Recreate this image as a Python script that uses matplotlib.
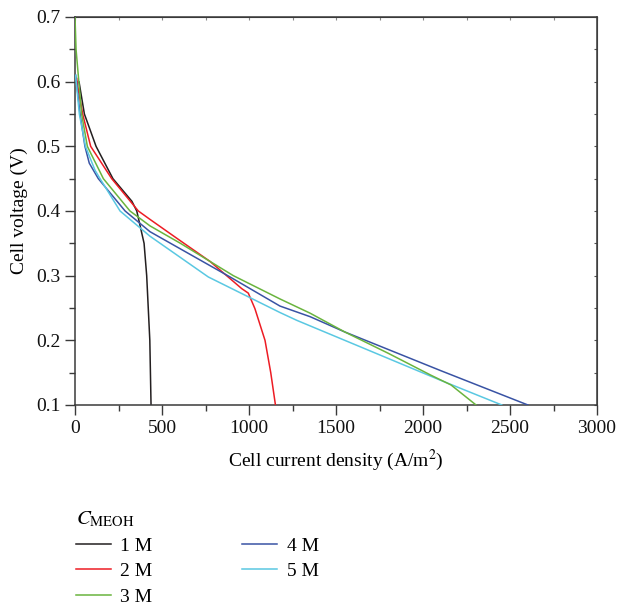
import matplotlib
matplotlib.use("Agg")
import matplotlib.pyplot as plt
from matplotlib.ticker import MultipleLocator, FormatStrFormatter

plt.rcParams['font.family'] = ['Liberation Serif', 'DejaVu Serif']
plt.rcParams['mathtext.fontset'] = 'stix'

# Data (current density A/m^2, voltage V)
x_1M = [19, 23, 54, 121, 218, 327, 355, 397, 412, 430, 437]
y_1M = [0.60, 0.60, 0.55, 0.50, 0.45, 0.415, 0.40, 0.35, 0.30, 0.20, 0.10]

x_2M = [10, 13, 44, 90, 211, 364, 431, 600, 776, 958, 996, 1034, 1092, 1125, 1152]
y_2M = [0.605, 0.597, 0.55, 0.50, 0.45, 0.40, 0.387, 0.355, 0.322, 0.28, 0.273, 0.249, 0.20, 0.15, 0.10]

x_3M = [0, 6, 38, 71, 163, 316, 431, 606, 910, 1178, 1351, 1550, 1800, 2046, 2161, 2305]
y_3M = [0.70, 0.65, 0.55, 0.50, 0.45, 0.40, 0.377, 0.35, 0.30, 0.264, 0.242, 0.213, 0.180, 0.146, 0.131, 0.10]

x_4M = [4, 29, 57, 82, 134, 288, 431, 891, 1178, 1351, 1550, 2103, 2603]
y_4M = [0.61, 0.55, 0.50, 0.474, 0.45, 0.40, 0.368, 0.298, 0.253, 0.2366, 0.213, 0.153, 0.10]

x_5M = [3, 25, 60, 115, 144, 259, 431, 766, 1178, 1274, 2103, 2453]
y_5M = [0.61, 0.55, 0.50, 0.463, 0.45, 0.40, 0.361, 0.298, 0.243, 0.231, 0.138, 0.10]

labels = ['1 M', '2 M', '3 M', '4 M', '5 M']
colors = ['#231f20', '#ed1c24', '#6ab43e', '#3953a4', '#5ac8e2']

fig = plt.figure(figsize=(6.19, 6.08), dpi=100)
ax = fig.add_axes([75/619, 1-405/608, (597-75)/619, (405-17)/608])

series = [(x_1M, y_1M), (x_2M, y_2M), (x_3M, y_3M), (x_4M, y_4M), (x_5M, y_5M)]
zorders = [2, 3, 6, 4, 5]
for (xs, ys), lab, c, z in zip(series, labels, colors, zorders):
    ax.plot(xs, ys, color=c, lw=1.1, label=lab, zorder=z)

ax.set_xlim(0, 3000)
ax.set_ylim(0.1, 0.7)
ax.xaxis.set_major_locator(MultipleLocator(500))
ax.xaxis.set_minor_locator(MultipleLocator(250))
ax.yaxis.set_major_locator(MultipleLocator(0.1))
ax.yaxis.set_minor_locator(MultipleLocator(0.05))
ax.yaxis.set_major_formatter(FormatStrFormatter('%.1f'))

for name, s in ax.spines.items():
    s.set_color('#3a3a3a')
    s.set_linewidth(1.1)
ax.tick_params(which='both', direction='out', colors='#3a3a3a', labelsize=14, labelcolor='#111111')
ax.tick_params(which='major', length=7, width=1.0)
ax.tick_params(which='minor', length=4, width=1.0)

# mirrored axes: tiny inward ticks on top/right
ax_top = ax.secondary_xaxis('top')
ax_top.xaxis.set_major_locator(MultipleLocator(500))
ax_top.xaxis.set_minor_locator(MultipleLocator(250))
ax_top.tick_params(which='both', direction='in', length=2, width=0.8, colors='#888888', labeltop=False)
ax_right = ax.secondary_yaxis('right')
ax_right.yaxis.set_major_locator(MultipleLocator(0.1))
ax_right.yaxis.set_minor_locator(MultipleLocator(0.05))
ax_right.tick_params(which='both', direction='in', length=2, width=0.8, colors='#555555', labelright=False)
ax_top.spines['top'].set_color('#3a3a3a')
ax_right.spines['right'].set_color('#555555')

ax.set_xlabel('Cell current density (A/m$^2$)', fontsize=14, labelpad=8)
ax.set_ylabel('Cell voltage (V)', fontsize=14, labelpad=6)

leg = fig.legend(loc='upper left', bbox_to_anchor=(66/619, 1-500/608), ncol=2,
                 frameon=False, fontsize=14, title='$C_{\\mathrm{MEOH}}$',
                 title_fontsize=15, handlelength=1.8, handletextpad=0.5,
                 columnspacing=4.6, labelspacing=0.4, borderpad=0.0,
                 alignment='left')

fig.savefig('out.png', dpi=100)
